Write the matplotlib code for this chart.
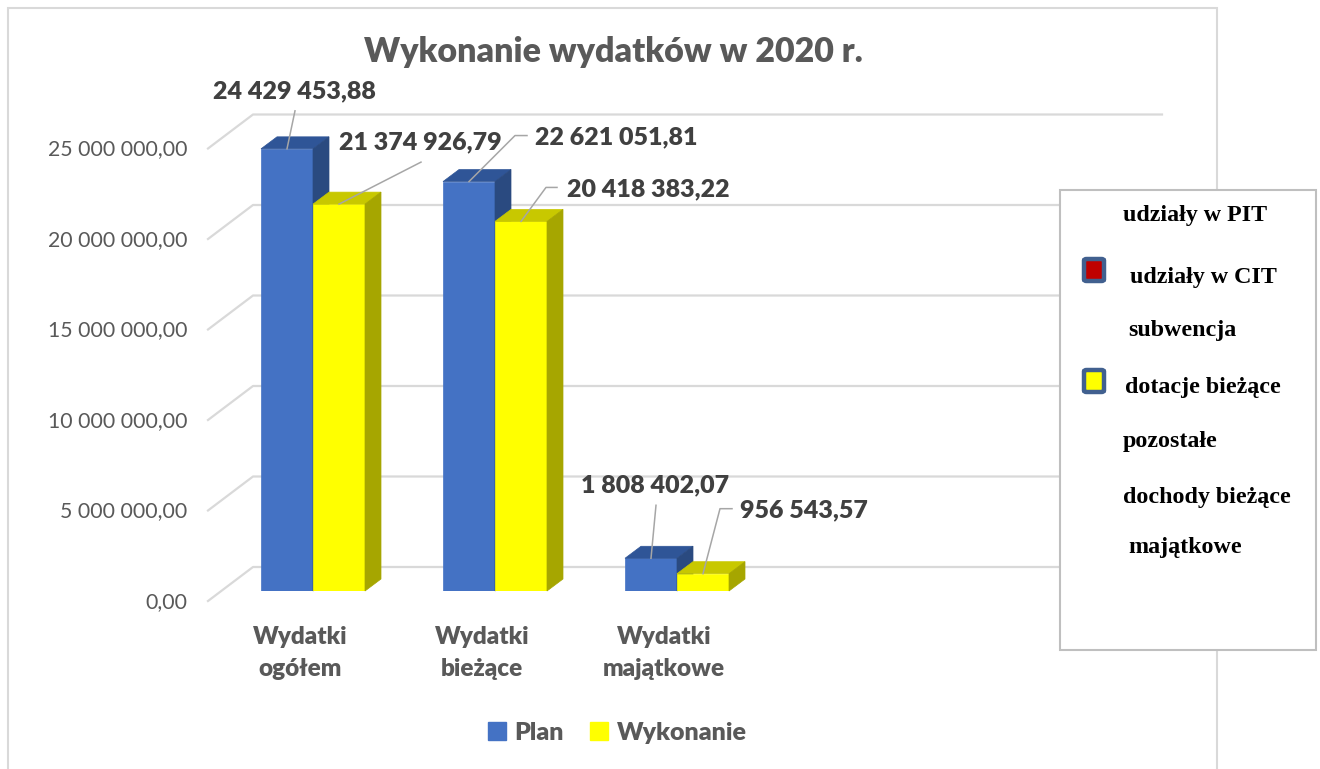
import matplotlib.pyplot as plt
from matplotlib.lines import Line2D
from matplotlib.patches import Polygon, Rectangle, FancyBboxPatch

# data
categories = ["Wydatki\nogółem", "Wydatki\nbieżące", "Wydatki\nmajątkowe"]
plan = [24429453.88, 22621051.81, 1808402.07]
wykonanie = [21374926.79, 20418383.22, 956543.57]
y_ticks = [0, 5000000, 10000000, 15000000, 20000000, 25000000]
series_names = ["Plan", "Wykonanie"]
side_items = ["udziały w PIT", "udziały w CIT", "subwencja", "dotacje bieżące",
              "pozostałe", "dochody bieżące", "majątkowe"]


def pl_num(v):
    return f"{v:,.2f}".replace(",", " ").replace(".", ",")


W, H = 1320, 769
fig = plt.figure(figsize=(W / 100, H / 100), dpi=100)
sans = "Lato"
gray = "#595959"
bold = "heavy"

# axes = the plane on which the bar fronts stand (pixel box)
left, right, top, bottom = 221, 1130, 138.5, 591
ax = fig.add_axes([left / W, 1 - bottom / H, (right - left) / W, (bottom - top) / H])
x_lo, x_hi = -0.5055, 4.489
ax.set_xlim(x_lo, x_hi)
ax.set_ylim(0, 25000000)
ax.axis("off")

px = (x_hi - x_lo) / (right - left)   # data units per pixel
py = 25000000 / (bottom - top)

# gridlines (back wall + floor diagonal)
for v in y_ticks:
    xs = [x_lo - 13 * px, x_lo + 32 * px, x_lo + (1162 - left) * px]
    ys = [v - 10 * py, v + 24 * py, v + 24 * py]
    ax.plot(xs, ys, color="#D9D9D9", lw=1.6, clip_on=False, zorder=1)
    ax.text(x_lo - 34 * px, v - 11 * py, pl_num(v), ha="right", va="center",
            fontsize=15.3, color=gray, family=sans)

w = 52 / 182
ddx, ddy = 16 * px, 12 * py


def bar3d(x, h, front, topc, side, z):
    ax.bar(x, h, w, color=front, edgecolor=front, lw=0.5, zorder=z)
    l, r = x - w / 2, x + w / 2
    ax.add_patch(Polygon([(l, h), (r, h), (r + ddx, h + ddy), (l + ddx, h + ddy)],
                         closed=True, facecolor=topc, edgecolor=topc, lw=0.5,
                         zorder=z, clip_on=False))
    ax.add_patch(Polygon([(r, 0), (r, h), (r + ddx, h + ddy), (r + ddx, ddy)],
                         closed=True, facecolor=side, edgecolor=side, lw=0.5,
                         zorder=z, clip_on=False))


for i in range(len(categories)):
    bar3d(i - w / 2, plan[i], "#4472C4", "#2F5597", "#2A4A80", 3 + 2 * i)
    bar3d(i + w / 2, wykonanie[i], "#FFFF00", "#C8C800", "#A6A600", 4 + 2 * i)

# data labels with leader lines (offsets in pixels from bar top)
plan_leaders = [[(8, 38)], [(46, 46), (58, 46)], [(5, 53)]]
plan_text = [(7, 58, "center"), (66, 44, "left"), (4, 73, "center")]
wyk_leaders = [[(82, 42)], [(25, 34), (36, 34)], [(17, 65), (29, 65)]]
wyk_text = [(0, 62, "left"), (46, 32, "left"), (37, 63, "left")]

for vals, shift, leads, texts in [(plan, -w / 2, plan_leaders, plan_text),
                                  (wykonanie, w / 2, wyk_leaders, wyk_text)]:
    for i, v in enumerate(vals):
        x0 = i + shift
        xs = [x0] + [x0 + a * px for a, b in leads[i]]
        ys = [v] + [v + b * py for a, b in leads[i]]
        ax.plot(xs, ys, color="#A6A6A6", lw=1.1, zorder=20, clip_on=False)
        tx, ty, ha = texts[i]
        ax.text(x0 + tx * px, v + ty * py, pl_num(v), ha=ha, va="center",
                fontsize=18, fontweight=bold, color="#404040", family=sans,
                zorder=21)

# category labels
for i, c in enumerate(categories):
    ax.text(i - 13 * px, -62 * py, c, ha="center", va="center", fontsize=17.5,
            fontweight=bold, color=gray, family=sans, linespacing=1.5)

# title
fig.text(613 / W, 1 - 52 / H, "Wykonanie wydatków w 2020 r.", ha="center",
         va="center", fontsize=24.5, fontweight=bold, color=gray, family=sans)

# bottom legend
handles = [Line2D([], [], marker="s", linestyle="None", markersize=12.5,
                  markerfacecolor=c, markeredgecolor=c)
           for c in ["#4472C4", "#FFFF00"]]
fig.legend(handles, series_names, loc="center", bbox_to_anchor=(617 / W, 1 - 733 / H),
           ncol=2, frameon=False, handlelength=0.8, handletextpad=0.3,
           columnspacing=1.0,
           prop={"family": sans, "weight": bold, "size": 18}, labelcolor=gray)

# outer chart border
fig.add_artist(Rectangle((8 / W, -0.02), (1217 - 8) / W, 1.02 - 8 / H,
                         transform=fig.transFigure, fill=False,
                         edgecolor="#D9D9D9", lw=1.5))

# side legend box
fig.add_artist(Rectangle((1060 / W, 1 - 650 / H), (1316 - 1060) / W, (650 - 190) / H,
                         transform=fig.transFigure, facecolor="white",
                         edgecolor="#BFBFBF", lw=1.5, zorder=30))
side_x = [1123, 1130, 1128, 1125, 1123, 1123, 1128]
side_y = [215, 277, 330, 388, 442, 497, 548]
for t, xx, yy in zip(side_items, side_x, side_y):
    fig.text(xx / W, 1 - yy / H, t, ha="left", va="center", fontsize=17.3,
             fontweight="bold", family="Liberation Serif", color="black", zorder=31)
for yy, c in [(270, "#C00000"), (381, "#FFFF00")]:
    fig.add_artist(FancyBboxPatch((1084 / W, 1 - (yy + 11) / H), 20 / W, 22 / H,
                                  boxstyle="round,pad=0,rounding_size=0.002",
                                  transform=fig.transFigure, facecolor=c,
                                  edgecolor="#41608F", lw=3.2, zorder=32))

fig.savefig("out.png", dpi=100)
